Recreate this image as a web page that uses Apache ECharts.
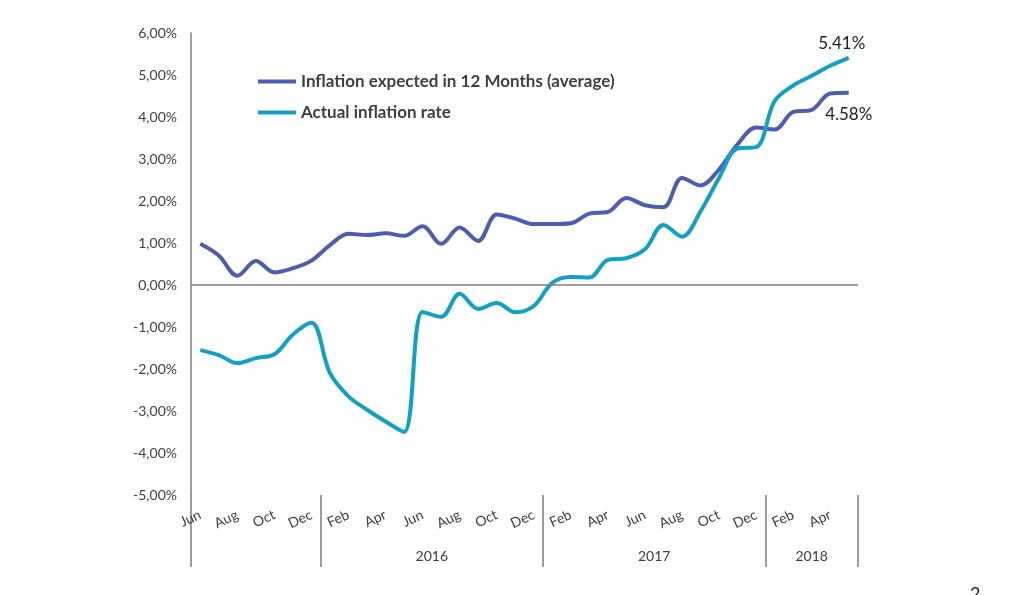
<!DOCTYPE html>
<html>
<head>
<meta charset="utf-8">
<script src="https://cdn.jsdelivr.net/npm/echarts@6/dist/echarts.min.js"></script>
<style>html,body{margin:0;padding:0;background:#fff}#c{width:1024px;height:595px}</style>
</head>
<body>
<div id="c"></div>
<script>
const months = ['Jun 2015','Jul 2015','Aug 2015','Sep 2015','Oct 2015','Nov 2015','Dec 2015',
  'Jan 2016','Feb 2016','Mar 2016','Apr 2016','May 2016','Jun 2016','Jul 2016','Aug 2016','Sep 2016','Oct 2016','Nov 2016','Dec 2016',
  'Jan 2017','Feb 2017','Mar 2017','Apr 2017','May 2017','Jun 2017','Jul 2017','Aug 2017','Sep 2017','Oct 2017','Nov 2017','Dec 2017',
  'Jan 2018','Feb 2018','Mar 2018','Apr 2018','May 2018'];
const expected = [0.98,0.70,0.22,0.57,0.30,0.40,0.58,
  0.95,1.22,1.19,1.23,1.17,1.40,0.98,1.37,1.05,1.68,1.58,1.45,
  1.45,1.47,1.70,1.74,2.07,1.90,1.85,2.55,2.37,2.75,3.35,3.75,
  3.70,4.12,4.17,4.56,4.58];
const actual = [-1.55,-1.67,-1.86,-1.74,-1.65,-1.18,-0.90,
  -2.10,-2.65,-2.97,-3.25,-3.50,-0.64,-0.76,-0.21,-0.57,-0.43,-0.65,-0.50,
  0.05,0.19,0.18,0.60,0.64,0.85,1.43,1.15,1.75,2.55,3.25,3.28,
  4.38,4.75,4.98,5.22,5.41];
const yearBounds = [0,7,19,31,36];
const yearLabels = ['2016','2017','2018'];
const yearCenters = [13,25,33.5];
const seriesNames = ['Inflation expected in 12 Months (average)','Actual inflation rate'];

const font = 'Lato, "Open Sans", sans-serif';
const chart = echarts.init(document.getElementById('c'));
const last = months.length - 1;
chart.setOption({
  animation:false,
  backgroundColor:'#fff',
  grid:{left:191,right:166,top:33,bottom:100,containLabel:false},
  legend:{
    orient:'vertical',left:253,top:68,itemGap:14,itemWidth:38,itemHeight:4,icon:'rect',
    textStyle:{fontFamily:font,fontSize:17,fontWeight:'bold',color:'#404040'},
    data:seriesNames
  },
  xAxis:[{
    type:'category',data:months,boundaryGap:true,
    axisLine:{show:false},axisTick:{show:false},
    axisLabel:{interval:1,rotate:25,margin:19,
      fontFamily:font,fontSize:14,color:'#404040',
      formatter:v=>v.split(' ')[0]}
  },{
    type:'value',min:0,max:36,position:'bottom',splitLine:{show:false},
    axisLine:{show:false},
    axisTick:{show:true,customValues:yearBounds,length:72,lineStyle:{color:'#7f7f7f',width:1.5}},
    axisLabel:{customValues:yearCenters,margin:54,fontFamily:font,fontSize:14,color:'#404040',
      formatter:v=>yearLabels[yearCenters.indexOf(v)]}
  }],
  yAxis:{
    type:'value',min:-5,max:6,interval:1,
    axisLine:{show:true,lineStyle:{color:'#7f7f7f',width:1.5}},
    axisTick:{show:false},splitLine:{show:false},
    axisLabel:{margin:14,fontFamily:font,fontSize:14,color:'#404040',
      formatter:v=>v.toFixed(2).replace('.',',')+'%'}
  },
  series:[{
    name:seriesNames[0],type:'line',data:expected,smooth:0.35,showSymbol:false,
    lineStyle:{width:4,color:'#4F5DB0'},itemStyle:{color:'#4F5DB0'},
    markPoint:{symbol:'circle',symbolSize:1,itemStyle:{color:'rgba(0,0,0,0)'},
      label:{show:true,position:'bottom',distance:13,offset:[0,0],fontFamily:font,fontSize:17,color:'#222'},
      data:[{coord:[last,expected[last]],value:expected[last],label:{formatter:expected[last].toFixed(2)+'%'}}]},
    markLine:{silent:true,symbol:'none',label:{show:false},
      lineStyle:{color:'#7f7f7f',width:1.5,type:'solid'},data:[{yAxis:0}]}
  },{
    name:seriesNames[1],type:'line',data:actual,smooth:0.35,showSymbol:false,
    lineStyle:{width:4,color:'#12A0C6'},itemStyle:{color:'#12A0C6'},
    markPoint:{symbol:'circle',symbolSize:1,itemStyle:{color:'rgba(0,0,0,0)'},
      label:{show:true,position:'top',distance:5,offset:[-7,0],fontFamily:font,fontSize:17,color:'#222'},
      data:[{coord:[last,actual[last]],value:actual[last],label:{formatter:actual[last].toFixed(2)+'%'}}]}
  }],
  graphic:[{type:'text',left:970,top:585,style:{text:'2',fontFamily:font,fontSize:18,fill:'#222'}}]
});
</script>
</body>
</html>
